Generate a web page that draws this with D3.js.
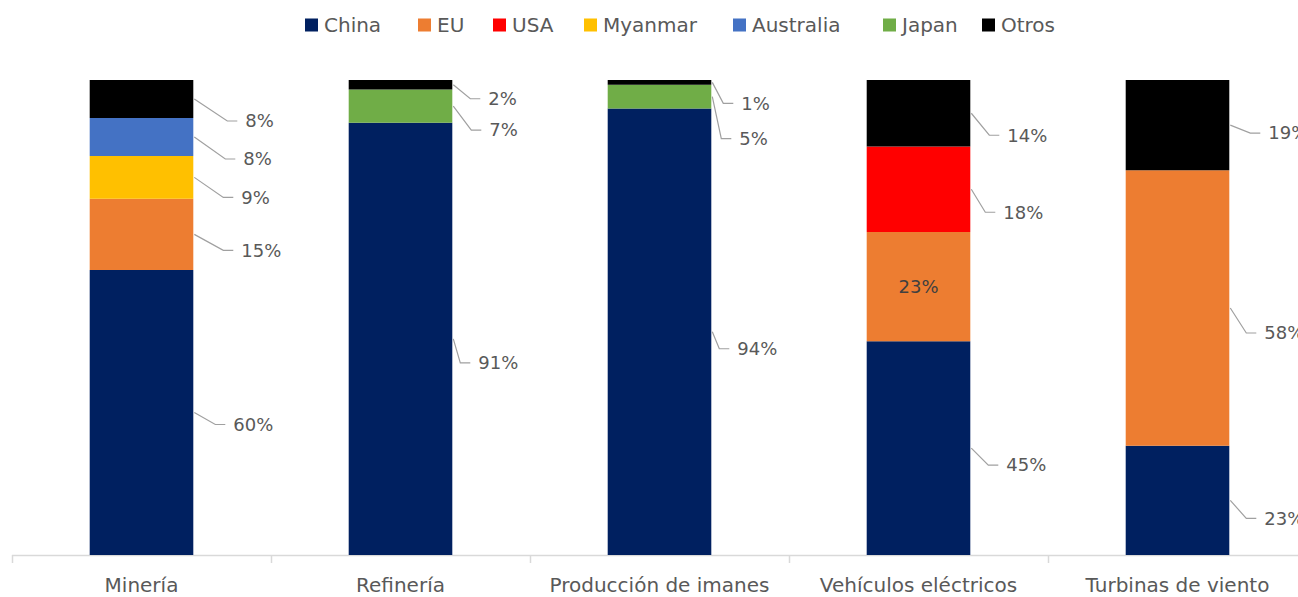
<!DOCTYPE html>
<html>
<head>
<meta charset="utf-8">
<script src="https://cdn.jsdelivr.net/npm/d3@7"></script>
<style>
  body { margin: 0; background: #fff; }
  svg text { font-family: "DejaVu Sans", "Noto Sans", sans-serif; }
</style>
</head>
<body>
<div id="chart"></div>
<script>
// categories and series
const categories = ['Minería', 'Refinería', 'Producción de imanes', 'Vehículos eléctricos', 'Turbinas de viento'];
const seriesNames = ['China', 'EU', 'USA', 'Myanmar', 'Australia', 'Japan', 'Otros'];
const seriesColors = ['#002060', '#ED7D31', '#FF0000', '#FFC000', '#4472C4', '#70AD47', '#000000'];

// share (%) per category, one array per series
const china     = [60, 91, 94, 45, 23];
const eu        = [15, 0, 0, 23, 58];
const usa       = [0, 0, 0, 18, 0];
const myanmar   = [9, 0, 0, 0, 0];
const australia = [8, 0, 0, 0, 0];
const japan     = [0, 7, 5, 0, 0];
const otros     = [8, 2, 1, 14, 19];

const seriesValues = [china, eu, usa, myanmar, australia, japan, otros];

// label callout nudges: [dx from bar right, dy from segment middle]; null = label inside
const labelNudge = {
  'Minería':              {China: [40, 12], EU: [48, 16], Myanmar: [48, 20], Australia: [50, 22], Otros: [52, 22]},
  'Refinería':            {China: [26, 24], Japan: [37, 24], Otros: [36, 14]},
  'Producción de imanes': {China: [26, 17], Japan: [28, 42], Otros: [30, 21]},
  'Vehículos eléctricos': {China: [36, 17], EU: null, USA: [33, 23], Otros: [37, 22]},
  'Turbinas de viento':   {China: [35, 18], EU: [35, 25], Otros: [39, 8]}
};

const W = 1298, H = 597;
const svg = d3.select('#chart').append('svg').attr('width', W).attr('height', H);

const x = d3.scaleBand().domain(categories).range([12, 1307]).paddingInner(0.6).paddingOuter(0.3);
const y = d3.scaleLinear().domain([0, 100]).range([555, 80]);

// build table for stack
const table = categories.map((c, i) => {
  const row = {category: c};
  seriesNames.forEach((s, j) => row[s] = seriesValues[j][i]);
  return row;
});
const stacked = d3.stack().keys(seriesNames)(table);
const color = d3.scaleOrdinal().domain(seriesNames).range(seriesColors);

// axis line + boundary ticks
const axisG = svg.append('g');
axisG.append('line')
  .attr('x1', 12).attr('x2', W).attr('y1', y(0) + 0.5).attr('y2', y(0) + 0.5)
  .attr('stroke', '#d9d9d9').attr('stroke-width', 1.5);
const bounds = categories.map(c => x(c) - x.step() * x.paddingInner() / 2);
axisG.selectAll('line.tick').data(bounds).join('line')
  .attr('class', 'tick')
  .attr('x1', d => Math.round(d) + 0.5).attr('x2', d => Math.round(d) + 0.5)
  .attr('y1', y(0)).attr('y2', y(0) + 8)
  .attr('stroke', '#d9d9d9').attr('stroke-width', 1.5);
axisG.selectAll('text.cat').data(categories).join('text')
  .attr('class', 'cat')
  .attr('x', d => x(d) + x.bandwidth() / 2)
  .attr('y', 592)
  .attr('text-anchor', 'middle')
  .attr('font-size', 20)
  .attr('fill', '#595959')
  .text(d => d);

// bars
const layers = svg.append('g').selectAll('g').data(stacked).join('g')
  .attr('fill', d => color(d.key));
layers.selectAll('rect').data(d => d.filter(s => s[1] - s[0] > 0)).join('rect')
  .attr('x', d => x(d.data.category))
  .attr('y', d => y(d[1]))
  .attr('width', x.bandwidth())
  .attr('height', d => y(d[0]) - y(d[1]));

// data labels with callout lines
const labels = [];
stacked.forEach(layer => {
  layer.forEach(seg => {
    const v = seg[1] - seg[0];
    if (v <= 0) return;
    labels.push({key: layer.key, cat: seg.data.category, v, mid: (y(seg[0]) + y(seg[1])) / 2});
  });
});
const lblG = svg.append('g');
labels.forEach(l => {
  const nudge = labelNudge[l.cat][l.key];
  const right = x(l.cat) + x.bandwidth();
  if (!nudge) {
    lblG.append('text')
      .attr('x', x(l.cat) + x.bandwidth() / 2).attr('y', l.mid)
      .attr('dy', '0.35em').attr('text-anchor', 'middle')
      .attr('font-size', 18).attr('fill', '#404040')
      .text(l.v + '%');
    return;
  }
  const tx = right + nudge[0], ty = l.mid + nudge[1];
  lblG.append('path')
    .attr('d', `M${right + 1},${l.mid}L${tx - 18},${ty}L${tx - 8},${ty}`)
    .attr('fill', 'none').attr('stroke', '#a0a0a0').attr('stroke-width', 1.2);
  lblG.append('text')
    .attr('x', tx).attr('y', ty).attr('dy', '0.35em')
    .attr('font-size', 18).attr('fill', '#595959')
    .text(l.v + '%');
});

// legend
const legendX = [305, 418, 493, 584, 733, 883, 982];
const lg = svg.append('g').selectAll('g').data(seriesNames).join('g')
  .attr('transform', (d, i) => `translate(${legendX[i]},25)`);
lg.append('rect').attr('x', 0).attr('y', -6.5).attr('width', 13).attr('height', 13)
  .attr('fill', d => color(d));
lg.append('text').attr('x', 19).attr('y', 0).attr('dy', '0.35em')
  .attr('font-size', 20).attr('fill', '#595959').text(d => d);
</script>
</body>
</html>
